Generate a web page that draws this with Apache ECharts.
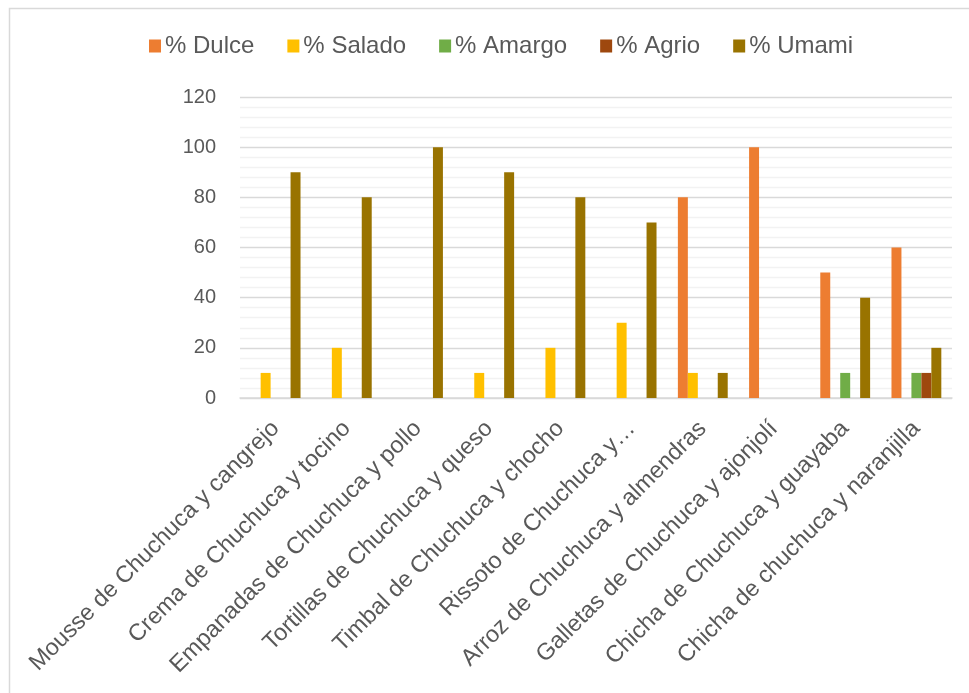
<!DOCTYPE html>
<html>
<head>
<meta charset="utf-8">
<script src="https://cdn.jsdelivr.net/npm/echarts@6/dist/echarts.min.js"></script>
<style>
  html, body { margin: 0; padding: 0; background: #fff; }
  #chart { width: 969px; height: 693px; }
</style>
</head>
<body>
<div id="chart"></div>
<script>
// Platos elaborados con chuchuca y el perfil de sabor de cada uno (%)
const categories = [
  'Mousse de Chuchuca y cangrejo',
  'Crema de Chuchuca y tocino',
  'Empanadas de Chuchuca y pollo',
  'Tortillas de Chuchuca y queso',
  'Timbal de Chuchuca y chocho',
  'Rissoto de Chuchuca y…',
  'Arroz de Chuchuca y almendras',
  'Galletas de Chuchuca y ajonjolí',
  'Chicha de Chuchuca y guayaba',
  'Chicha de chuchuca y naranjilla'
];

const dulce  = [0, 0, 0, 0, 0, 0, 80, 100, 50, 60];
const salado = [10, 20, 0, 10, 20, 30, 10, 0, 0, 0];
const amargo = [0, 0, 0, 0, 0, 0, 0, 0, 10, 10];
const agrio  = [0, 0, 0, 0, 0, 0, 0, 0, 0, 10];
const umami  = [90, 80, 100, 90, 80, 70, 10, 0, 40, 20];

const seriesNames = ['% Dulce', '% Salado', '% Amargo', '% Agrio', '% Umami'];
const seriesData = [dulce, salado, amargo, agrio, umami];
const seriesColors = ['#ED7D31', '#FFC000', '#70AD47', '#9E480E', '#997300'];

const yTicks = { min: 0, max: 120, interval: 20 };

const textColor = '#595959';
const font = '"Liberation Sans", Arial, sans-serif';

const chart = echarts.init(document.getElementById('chart'), null, { renderer: 'canvas' });

chart.setOption({
  animation: false,
  backgroundColor: '#ffffff',
  textStyle: { fontFamily: font },
  graphic: [{
    type: 'rect',
    shape: { x: 9.5, y: 8.5, width: 990, height: 720 },
    style: { fill: 'none', stroke: '#D9D9D9', lineWidth: 1.5 },
    silent: true,
    z: -10
  }],
  legend: {
    left: 149,
    top: 34,
    padding: 0,
    itemWidth: 12,
    itemHeight: 13,
    itemGap: 33,
    icon: 'rect',
    textStyle: { color: textColor, fontSize: 24, fontFamily: font, padding: [0, 0, 0, -1] },
    data: seriesNames
  },
  grid: { left: 240, right: 17, top: 97, bottom: 295, containLabel: false },
  xAxis: {
    type: 'category',
    data: categories,
    axisLine: { show: true, lineStyle: { color: '#D9D9D9', width: 1.5 } },
    axisTick: { show: false },
    splitLine: { show: false },
    axisLabel: {
      interval: 0,
      rotate: 45,
      margin: 27,
      verticalAlign: 'middle',
      color: textColor,
      fontSize: 23.5,
      fontFamily: font
    }
  },
  yAxis: {
    type: 'value',
    min: yTicks.min,
    max: yTicks.max,
    interval: yTicks.interval,
    axisLine: { show: false },
    axisTick: { show: false },
    axisLabel: { color: textColor, fontSize: 20, margin: 24, fontFamily: font },
    splitLine: { show: true, lineStyle: { color: '#D9D9D9', width: 1.3 } },
    minorTick: { show: false, splitNumber: 5 },
    minorSplitLine: { show: true, lineStyle: { color: '#F2F2F2', width: 1.3 } }
  },
  series: seriesNames.map((name, i) => ({
    name: name,
    type: 'bar',
    data: seriesData[i],
    barGap: '0%',
    barCategoryGap: '30%',
    itemStyle: { color: seriesColors[i] }
  }))
});
</script>
</body>
</html>
